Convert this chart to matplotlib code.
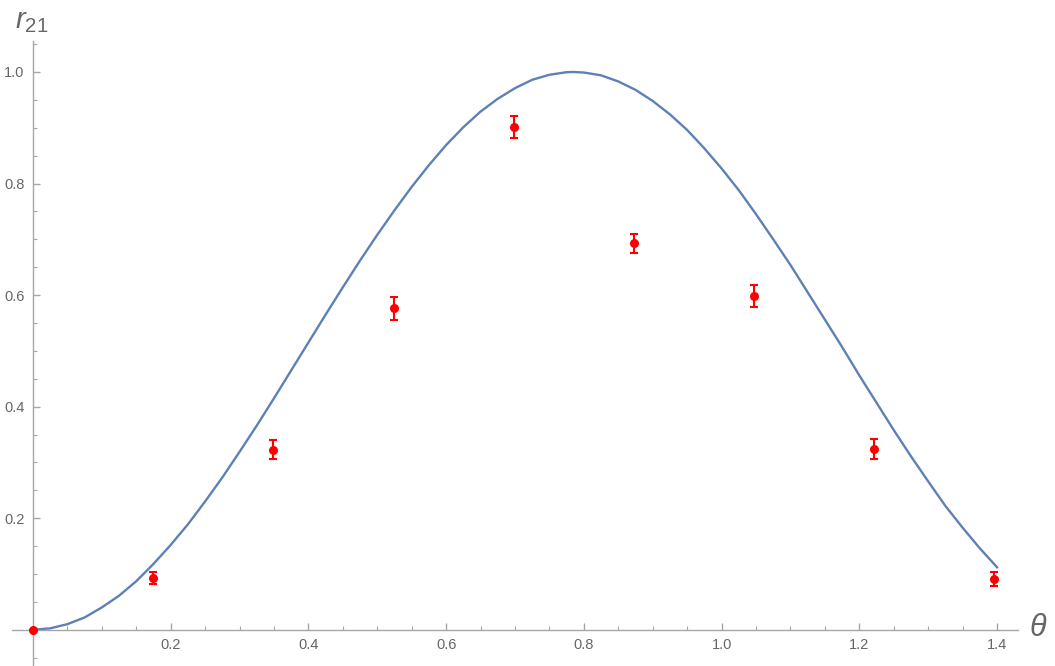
import numpy as np
import matplotlib.pyplot as plt
from matplotlib.ticker import MultipleLocator, FixedLocator

plt.rcParams['font.family'] = ['Liberation Sans', 'DejaVu Sans']
plt.rcParams['mathtext.fontset'] = 'custom'
plt.rcParams['mathtext.rm'] = 'Liberation Sans'
plt.rcParams['mathtext.it'] = 'Liberation Sans:italic'

# curva teorica
theta_curve = [0.0, 0.025, 0.05, 0.075, 0.10, 0.125, 0.15, 0.175, 0.20, 0.225,
               0.25, 0.275, 0.30, 0.325, 0.35, 0.375, 0.40, 0.425, 0.45, 0.475,
               0.50, 0.525, 0.55, 0.575, 0.60, 0.625, 0.65, 0.675, 0.70, 0.725,
               0.75, 0.775, 0.785, 0.80, 0.825, 0.85, 0.875, 0.90, 0.925, 0.95,
               0.975, 1.00, 1.025, 1.05, 1.075, 1.10, 1.125, 1.15, 1.175, 1.20,
               1.225, 1.25, 1.275, 1.30, 1.325, 1.35, 1.375, 1.40]
r_curve = [0.0, 0.0025, 0.010, 0.022, 0.040, 0.061, 0.087, 0.118, 0.152, 0.189,
           0.230, 0.273, 0.319, 0.366, 0.415, 0.465, 0.515, 0.565, 0.614, 0.662,
           0.708, 0.752, 0.794, 0.833, 0.869, 0.901, 0.929, 0.952, 0.971, 0.986,
           0.995, 0.9996, 1.000, 0.999, 0.994, 0.983, 0.968, 0.948, 0.924, 0.896,
           0.863, 0.827, 0.788, 0.745, 0.700, 0.654, 0.605, 0.556, 0.507, 0.456,
           0.407, 0.358, 0.311, 0.266, 0.222, 0.183, 0.146, 0.112]

# datos experimentales
theta_data = [0.0, 0.1745, 0.3491, 0.5236, 0.6981, 0.8727, 1.0472, 1.2217, 1.3963]
r_data = [0.0, 0.093, 0.323, 0.576, 0.901, 0.693, 0.598, 0.324, 0.091]
r_err = [0.0, 0.011, 0.017, 0.020, 0.020, 0.017, 0.020, 0.018, 0.012]

axis_gray = '#a6a6a6'
label_gray = '#666666'

fig = plt.figure(figsize=(10.55, 6.66), dpi=100)
ax = fig.add_axes([12.3 / 1055, 0.0, (1017.7 - 12.3) / 1055, (666 - 41.3) / 666])

ax.plot(theta_curve, r_curve, color='#5E81B5', lw=1.7, zorder=2)
ax.errorbar(theta_data, r_data, yerr=r_err, fmt='o', color='red', ms=5.5,
            capsize=2.8, elinewidth=1.5, capthick=1.5, zorder=3, clip_on=False)

ax.set_xlim(-0.03, 1.43)
ax.set_ylim(-0.065, 1.055)

for s in ['top', 'right']:
    ax.spines[s].set_visible(False)
for s in ['left', 'bottom']:
    ax.spines[s].set_position(('data', 0))
    ax.spines[s].set_color(axis_gray)
    ax.spines[s].set_linewidth(1.0)

ax.xaxis.set_major_locator(FixedLocator([0.2, 0.4, 0.6, 0.8, 1.0, 1.2, 1.4]))
ax.xaxis.set_minor_locator(MultipleLocator(0.05))
ax.yaxis.set_major_locator(FixedLocator([0.2, 0.4, 0.6, 0.8, 1.0]))
ax.yaxis.set_minor_locator(MultipleLocator(0.05))
ax.xaxis.set_major_formatter(plt.FuncFormatter(lambda v, p: f'{v:.1f}'))
ax.yaxis.set_major_formatter(plt.FuncFormatter(lambda v, p: f'{v:.1f}'))

ax.tick_params(which='both', direction='in', color=axis_gray, labelcolor=label_gray,
               labelsize=10.5)
ax.tick_params(which='major', length=5, width=1.0, pad=6)
ax.tick_params(which='minor', length=3, width=0.8)

ax.text(1.446, 0.003, r'$\mathit{\theta}$', fontsize=22, color=label_gray,
        ha='left', va='center', clip_on=False)
ax.text(-0.026, 1.078, r'$\mathit{r}_{21}$', fontsize=21, color=label_gray,
        ha='left', va='baseline', clip_on=False)

plt.savefig('out.png', dpi=100)
